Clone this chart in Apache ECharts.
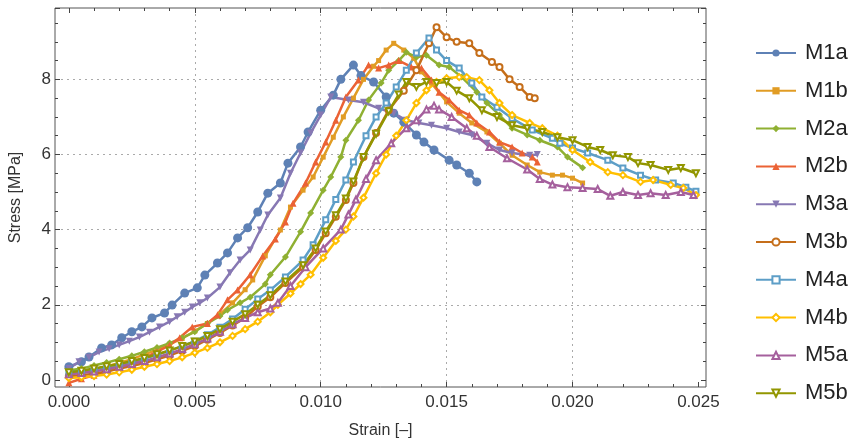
<!DOCTYPE html>
<html>
<head>
<meta charset="utf-8">
<script src="https://cdn.jsdelivr.net/npm/echarts@6/dist/echarts.min.js"></script>
<style>
  html, body { margin: 0; background: #fff; }
  #chart { width: 863px; height: 445px; }
</style>
</head>
<body>
<div id="chart"></div>
<script>
// specimen names and colours (Mathematica default palette)
const names = ['M1a', 'M1b', 'M2a', 'M2b', 'M3a', 'M3b', 'M4a', 'M4b', 'M5a', 'M5b'];
const colors = ['#5E81B5', '#E19C24', '#8FB032', '#EB6235', '#8778B3',
                '#C56E1A', '#5D9EC7', '#FFBF00', '#A5609D', '#929600'];

// [strain, stress MPa]
const m1a = [[0,0.35],[0.0005,0.48],[0.0008,0.61],[0.0013,0.85],[0.0017,0.93],[0.0021,1.12],[0.0025,1.28],[0.0029,1.41],[0.0033,1.65],[0.0038,1.78],[0.0041,1.99],[0.0046,2.31],[0.0051,2.45],[0.0054,2.79],[0.0059,3.11],[0.0063,3.38],[0.0067,3.78],[0.0071,4.05],[0.0075,4.47],[0.0079,4.97],[0.0084,5.24],[0.0087,5.77],[0.0092,6.2],[0.0095,6.6],[0.0100,7.18],[0.0105,7.58],[0.0108,8.0],[0.0113,8.38],[0.0116,8.1],[0.0121,7.93],[0.0126,7.53],[0.0129,7.1],[0.0133,6.86],[0.0138,6.52],[0.0141,6.33],[0.0145,6.12],[0.0151,5.85],[0.0154,5.72],[0.0159,5.5],[0.0162,5.27]];
const m1b = [[0,0.15],[0.0005,0.2],[0.001,0.28],[0.0015,0.36],[0.002,0.45],[0.0025,0.55],[0.003,0.68],[0.0035,0.8],[0.004,0.95],[0.0045,1.1],[0.005,1.3],[0.0055,1.5],[0.006,1.75],[0.0065,2.05],[0.007,2.4],[0.0073,2.66],[0.0078,3.3],[0.0084,3.99],[0.0088,4.6],[0.0093,5.05],[0.0097,5.4],[0.0101,5.93],[0.0105,6.46],[0.0109,7.0],[0.0113,7.5],[0.0117,8.0],[0.0121,8.35],[0.0123,8.5],[0.0126,8.78],[0.0129,8.96],[0.0133,8.78],[0.0137,8.56],[0.014,8.2],[0.0144,7.9],[0.015,7.4],[0.0155,7.1],[0.016,6.84],[0.0166,6.6],[0.0171,6.3],[0.0176,5.98],[0.0182,5.72],[0.0187,5.53],[0.0192,5.45],[0.0196,5.45],[0.02,5.37],[0.0204,5.24]];
const m2a = [[0,0.25],[0.0005,0.3],[0.001,0.38],[0.0015,0.46],[0.002,0.55],[0.0025,0.64],[0.003,0.75],[0.0035,0.86],[0.004,0.98],[0.0045,1.12],[0.005,1.28],[0.0055,1.5],[0.006,1.7],[0.0063,1.86],[0.0068,2.05],[0.0072,2.2],[0.0078,2.55],[0.008,2.8],[0.0086,3.27],[0.0092,3.94],[0.0096,4.44],[0.0101,5.05],[0.0104,5.4],[0.0108,5.93],[0.011,6.38],[0.0115,6.91],[0.0119,7.45],[0.0124,7.9],[0.0127,8.24],[0.0131,8.5],[0.0134,8.72],[0.0138,8.59],[0.0142,8.64],[0.0147,8.38],[0.0151,8.33],[0.0156,8.06],[0.0162,7.66],[0.0166,7.37],[0.0171,7.05],[0.0176,6.7],[0.0182,6.52],[0.0187,6.38],[0.0194,6.2],[0.0198,5.93],[0.0204,5.65]];
const m2b = [[0,-0.08],[0.0005,0.03],[0.001,0.12],[0.0015,0.22],[0.002,0.33],[0.0025,0.45],[0.003,0.58],[0.0035,0.75],[0.004,0.92],[0.0044,1.12],[0.0049,1.41],[0.0055,1.5],[0.0059,1.73],[0.0063,2.13],[0.0067,2.39],[0.0072,2.8],[0.0077,3.3],[0.0082,3.75],[0.0086,4.2],[0.0089,4.7],[0.0094,5.24],[0.0098,5.8],[0.0102,6.33],[0.0106,6.91],[0.011,7.53],[0.0115,7.98],[0.0119,8.38],[0.0123,8.3],[0.0127,8.38],[0.0131,8.5],[0.0136,8.33],[0.014,8.3],[0.0144,7.98],[0.0147,7.66],[0.0151,7.45],[0.0155,7.18],[0.0159,7.05],[0.0162,6.84],[0.0167,6.6],[0.0171,6.33],[0.0176,6.2],[0.018,6.04],[0.0184,5.93],[0.0186,5.8]];
const m3a = [[0,0.3],[0.0004,0.48],[0.0008,0.6],[0.0012,0.74],[0.0016,0.83],[0.002,0.93],[0.0024,1.03],[0.0028,1.14],[0.0032,1.27],[0.0036,1.41],[0.004,1.55],[0.0043,1.68],[0.0046,1.8],[0.0049,1.94],[0.0052,2.05],[0.0055,2.18],[0.006,2.47],[0.0064,2.85],[0.0068,3.19],[0.0072,3.46],[0.0076,3.99],[0.0079,4.39],[0.0084,4.84],[0.0088,5.5],[0.0092,6.04],[0.0096,6.57],[0.01,7.05],[0.0104,7.53],[0.0111,7.45],[0.0117,7.39],[0.0123,7.23],[0.0129,7.1],[0.0134,6.91],[0.0139,6.84],[0.0144,6.78],[0.015,6.7],[0.0155,6.6],[0.016,6.52],[0.0166,6.3],[0.0171,6.12],[0.0176,6.04],[0.0183,5.98],[0.0186,6.0]];
const m3b = [[0,0.1],[0.0005,0.12],[0.001,0.16],[0.0015,0.22],[0.002,0.3],[0.0025,0.37],[0.003,0.45],[0.0035,0.55],[0.004,0.65],[0.0045,0.77],[0.005,0.9],[0.0055,1.07],[0.006,1.25],[0.0065,1.45],[0.007,1.65],[0.0075,1.95],[0.008,2.2],[0.0086,2.58],[0.0093,3.0],[0.0098,3.46],[0.0102,3.9],[0.0106,4.34],[0.011,4.79],[0.0113,5.24],[0.0117,5.93],[0.0122,6.57],[0.0127,7.18],[0.0133,7.7],[0.0138,8.24],[0.0143,8.96],[0.0146,9.39],[0.015,9.12],[0.0154,9.0],[0.0159,8.96],[0.0163,8.7],[0.0168,8.46],[0.0171,8.33],[0.0175,8.0],[0.0179,7.8],[0.0183,7.53],[0.0185,7.5]];
const m4a = [[0,0.2],[0.0005,0.24],[0.001,0.28],[0.0015,0.33],[0.002,0.4],[0.0025,0.48],[0.003,0.57],[0.0035,0.67],[0.004,0.78],[0.0045,0.9],[0.005,1.03],[0.0055,1.2],[0.006,1.4],[0.0065,1.62],[0.007,1.88],[0.0075,2.15],[0.008,2.39],[0.0086,2.74],[0.0093,3.19],[0.0097,3.6],[0.0102,4.26],[0.0106,4.8],[0.011,5.32],[0.0113,5.8],[0.0118,6.5],[0.0122,7.0],[0.0126,7.37],[0.013,7.8],[0.0134,8.24],[0.0138,8.7],[0.0143,9.1],[0.0146,8.78],[0.015,8.5],[0.0155,8.3],[0.016,7.9],[0.0164,7.53],[0.017,7.26],[0.0176,6.96],[0.0184,6.65],[0.0192,6.43],[0.0195,6.3],[0.02,6.17],[0.0206,6.04],[0.0214,5.85],[0.022,5.64],[0.0227,5.45],[0.0233,5.32],[0.024,5.24],[0.0245,5.13],[0.0249,5.02]];
const m4b = [[0,0.05],[0.0005,0.07],[0.001,0.1],[0.0015,0.14],[0.002,0.2],[0.0025,0.27],[0.003,0.35],[0.0035,0.42],[0.004,0.5],[0.0045,0.6],[0.005,0.72],[0.0055,0.85],[0.006,1.0],[0.0065,1.17],[0.007,1.35],[0.0075,1.55],[0.008,1.8],[0.0083,2.0],[0.0088,2.3],[0.0092,2.55],[0.0096,2.8],[0.0101,3.25],[0.0106,3.7],[0.011,4.0],[0.0113,4.35],[0.0117,4.85],[0.0122,5.5],[0.0126,6.0],[0.013,6.5],[0.0134,6.91],[0.0138,7.37],[0.0142,7.71],[0.0146,7.93],[0.015,8.03],[0.0155,8.06],[0.0158,8.06],[0.0163,7.98],[0.0167,7.71],[0.0171,7.37],[0.0176,7.05],[0.0183,6.84],[0.0188,6.7],[0.0194,6.5],[0.02,6.12],[0.0207,5.8],[0.0214,5.53],[0.022,5.45],[0.0227,5.27],[0.0232,5.32],[0.0239,5.19],[0.0244,5.11],[0.0249,4.92]];
const m5a = [[0,0.15],[0.0005,0.18],[0.001,0.22],[0.0015,0.28],[0.002,0.35],[0.0025,0.42],[0.003,0.5],[0.0035,0.6],[0.004,0.7],[0.0045,0.82],[0.005,0.95],[0.0055,1.1],[0.006,1.28],[0.0065,1.48],[0.007,1.65],[0.0075,1.8],[0.008,1.9],[0.0083,2.05],[0.0088,2.5],[0.0094,3.0],[0.0101,3.5],[0.0108,4.0],[0.0111,4.4],[0.0114,4.8],[0.0118,5.35],[0.0122,5.85],[0.0128,6.3],[0.0134,6.7],[0.0138,6.91],[0.0142,7.2],[0.0145,7.3],[0.0147,7.2],[0.0152,7.0],[0.0158,6.7],[0.0162,6.5],[0.0167,6.2],[0.0174,5.9],[0.0182,5.6],[0.0187,5.35],[0.0192,5.2],[0.0198,5.13],[0.0204,5.11],[0.021,5.08],[0.0215,4.9],[0.022,5.0],[0.0226,4.92],[0.0231,4.97],[0.0237,4.92],[0.0243,5.0],[0.0248,4.92]];
const m5b = [[0,0.2],[0.0005,0.24],[0.001,0.3],[0.0015,0.36],[0.002,0.42],[0.0025,0.5],[0.003,0.58],[0.0035,0.68],[0.004,0.78],[0.0045,0.9],[0.005,1.02],[0.0055,1.17],[0.006,1.35],[0.0065,1.55],[0.007,1.75],[0.0075,2.0],[0.008,2.25],[0.0086,2.62],[0.0093,3.05],[0.0098,3.5],[0.0102,3.95],[0.0106,4.38],[0.011,4.83],[0.0113,5.28],[0.0117,5.93],[0.0122,6.55],[0.0127,7.15],[0.0131,7.6],[0.0134,7.93],[0.0138,7.8],[0.0142,7.93],[0.0146,7.9],[0.015,7.93],[0.0154,7.7],[0.0159,7.5],[0.0164,7.18],[0.017,7.0],[0.0176,6.78],[0.0182,6.7],[0.0188,6.6],[0.0194,6.46],[0.02,6.38],[0.0206,6.2],[0.0211,6.12],[0.0216,5.98],[0.0222,5.93],[0.0226,5.77],[0.0231,5.72],[0.0238,5.59],[0.0243,5.64],[0.0249,5.5]];

const curves = [m1a, m1b, m2a, m2b, m3a, m3b, m4a, m4b, m5a, m5b];
// marker shape, size, rotation per specimen
const markers = [
  ['circle', 9, 0], ['rect', 5, 0], ['diamond', 7, 0], ['triangle', 7, 0], ['triangle', 7, 180],
  ['emptyCircle', 6, 0], ['emptyRect', 5, 0], ['emptyDiamond', 6, 0], ['emptyTriangle', 6, 0], ['emptyTriangle', 6, 180]
];

const font = 'Liberation Sans, Arial, sans-serif';
const tickColor = '#444';
const gridDots = { color: ['rgba(0,0,0,0)', '#aaa', '#aaa', '#aaa', '#aaa', 'rgba(0,0,0,0)'], type: [2, 4], width: 1 };

const chart = echarts.init(document.getElementById('chart'));

const series = curves.map((d, i) => ({
  name: names[i],
  type: 'line',
  xAxisIndex: 0,
  yAxisIndex: 0,
  data: d,
  color: colors[i],
  symbol: markers[i][0],
  symbolSize: markers[i][1],
  symbolRotate: markers[i][2],
  showSymbol: true,
  lineStyle: { width: 2.5 },
  itemStyle: { color: colors[i], borderWidth: 1 }
}));

const hidden = { show: true, axisLine: { show: false }, axisTick: { show: false }, axisLabel: { show: false }, splitLine: { show: false } };

chart.setOption({
  animation: false,
  backgroundColor: '#fff',
  grid: [
    { left: 55, right: 157, top: 8, bottom: 58, show: true, borderColor: '#555', borderWidth: 1 },
    { left: 68.9, right: 164.6, top: 8, bottom: 58 },
    { left: 55, right: 157, top: 8, bottom: 65.1 }
  ],
  legend: {
    orient: 'vertical', left: 750, top: 37, padding: 5,
    itemWidth: 40, itemHeight: 9, itemGap: 15.8,
    textStyle: { fontSize: 22, color: '#222', fontFamily: font, padding: [0, 0, 0, 4] },
    data: names
  },
  xAxis: [
    Object.assign({}, hidden, { gridIndex: 0, type: 'value', min: -0.00055, max: 0.0253,
      name: 'Strain [–]', nameLocation: 'middle', nameGap: 36,
      nameTextStyle: { fontSize: 16, color: '#333', fontFamily: font } }),
    { gridIndex: 1, type: 'value', min: 0, max: 0.025, interval: 0.005, position: 'bottom',
      axisLine: { show: false },
      axisTick: { inside: true, length: 5, lineStyle: { color: tickColor } },
      minorTick: { show: true, splitNumber: 5, length: 3, lineStyle: { color: tickColor } },
      axisLabel: { margin: 7, fontSize: 17, color: '#333', fontFamily: font, formatter: v => v.toFixed(3) },
      splitLine: { show: true, lineStyle: gridDots } },
    { gridIndex: 1, type: 'value', min: 0, max: 0.025, interval: 0.005, position: 'top',
      axisLine: { show: false },
      axisTick: { inside: true, length: 5, lineStyle: { color: tickColor } },
      minorTick: { show: true, splitNumber: 5, length: 3, lineStyle: { color: tickColor } },
      axisLabel: { show: false }, splitLine: { show: false } },
    { gridIndex: 2, type: 'value', show: false }
  ],
  yAxis: [
    Object.assign({}, hidden, { gridIndex: 0, type: 'value', min: -0.19, max: 9.9,
      name: 'Stress [MPa]', nameLocation: 'middle', nameGap: 31,
      nameTextStyle: { fontSize: 16, color: '#333', fontFamily: font } }),
    { gridIndex: 1, type: 'value', show: false },
    { gridIndex: 2, type: 'value', min: 0, max: 9.9, interval: 2, position: 'left',
      axisLine: { show: false },
      axisTick: { inside: true, length: 5, lineStyle: { color: tickColor } },
      minorTick: { show: true, splitNumber: 4, length: 3, lineStyle: { color: tickColor } },
      axisLabel: { margin: 4, fontSize: 17, color: '#333', fontFamily: font, showMaxLabel: false },
      splitLine: { show: true, lineStyle: gridDots } },
    { gridIndex: 2, type: 'value', min: 0, max: 9.9, interval: 2, position: 'right',
      axisLine: { show: false },
      axisTick: { inside: true, length: 5, lineStyle: { color: tickColor } },
      minorTick: { show: true, splitNumber: 4, length: 3, lineStyle: { color: tickColor } },
      axisLabel: { show: false }, splitLine: { show: false } }
  ],
  series: series
});
</script>
</body>
</html>
